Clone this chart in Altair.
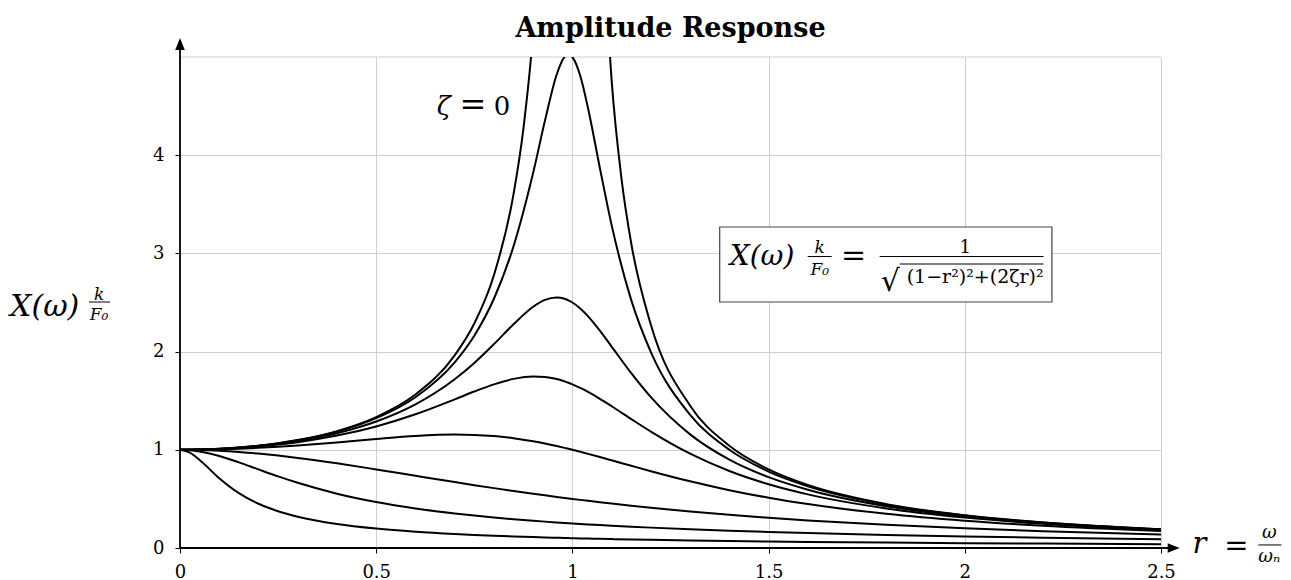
import altair as alt
import pandas as pd

FONT = "DejaVu Serif"

# frequency ratio grid r = omega / omega_n
R = [0, 0.025, 0.05, 0.1, 0.15, 0.2, 0.25, 0.3, 0.4, 0.5, 0.6, 0.7, 0.75, 0.8, 0.85,
     0.9, 0.93, 0.96, 0.98, 0.99, 1.0, 1.02, 1.04, 1.07, 1.1, 1.15, 1.2, 1.3, 1.4,
     1.5, 1.6, 1.8, 2.0, 2.2, 2.5]

# amplitude read for each damping ratio
ZETA_01 = [1.0, 1.0006, 1.0025, 1.0099, 1.0225, 1.0408, 1.0652, 1.0965, 1.1851, 1.3217,
           1.5357, 1.8908, 2.1622, 2.5384, 3.0728, 3.8207, 4.3500, 4.8218, 5.0010, 5.0252,
           5.0, 4.8086, 4.4755, 3.8693, 3.2880, 2.5245, 1.9952, 1.3562, 1.0, 0.7779,
           0.6280, 0.4408, 0.3304, 0.2587, 0.1896]
ZETA_02 = [1.0, 1.0006, 1.0023, 1.0093, 1.0211, 1.0381, 1.0607, 1.0895, 1.1695, 1.2883,
           1.4630, 1.7188, 1.8851, 2.0761, 2.2786, 2.4566, 2.5267, 2.5515, 2.5381, 2.5221,
           2.5, 2.4391, 2.3589, 2.2131, 2.0511, 1.7800, 1.5357, 1.1574, 0.8998, 0.7212,
           0.5931, 0.4250, 0.3221, 0.2538, 0.1871]
ZETA_03 = [1.0, 1.0005, 1.0021, 1.0083, 1.0187, 1.0336, 1.0533, 1.0780, 1.1447, 1.2380,
           1.3618, 1.5136, 1.5933, 1.6667, 1.7221, 1.7469, 1.7418, 1.7202, 1.6968, 1.6826,
           1.6667, 1.6304, 1.5890, 1.5194, 1.4438, 1.3129, 1.1851, 0.9603, 0.7839, 0.6492,
           0.5459, 0.4021, 0.3095, 0.2463, 0.1831]
ZETA_05 = [1.0, 1.0003, 1.0012, 1.0050, 1.0112, 1.0198, 1.0307, 1.0437, 1.0748, 1.1094,
           1.1399, 1.1546, 1.1517, 1.1399, 1.1184, 1.0871, 1.0641, 1.0382, 1.0196, 1.0099,
           1.0, 0.9796, 0.9586, 0.9261, 0.8930, 0.8373, 0.7824, 0.6795, 0.5891, 0.5121,
           0.4475, 0.3480, 0.2774, 0.2260, 0.1720]
ZETA_1 = [1.0, 0.9994, 0.9975, 0.9901, 0.9780, 0.9615, 0.9412, 0.9174, 0.8621, 0.8,
          0.7353, 0.6711, 0.64, 0.6098, 0.5806, 0.5525, 0.5362, 0.5204, 0.5101, 0.5050,
          0.5, 0.4901, 0.4804, 0.4662, 0.4525, 0.4306, 0.4098, 0.3717, 0.3378, 0.3077,
          0.2809, 0.2358, 0.2, 0.1712, 0.1379]
ZETA_2 = [1.0, 0.9957, 0.9829, 0.9365, 0.8719, 0.8002, 0.7295, 0.6640, 0.5534, 0.4682,
          0.4026, 0.3514, 0.3298, 0.3105, 0.2931, 0.2774, 0.2686, 0.2604, 0.2551, 0.2525,
          0.25, 0.2451, 0.2403, 0.2335, 0.2270, 0.2169, 0.2075, 0.1906, 0.1760, 0.1632,
          0.1518, 0.1326, 0.1170, 0.1042, 0.0885]
ZETA_5 = [1.0, 0.9707, 0.8962, 0.7107, 0.5585, 0.4508, 0.3745, 0.3190, 0.2447, 0.1978,
          0.1657, 0.1425, 0.1331, 0.1249, 0.1176, 0.1111, 0.1075, 0.1042, 0.1020, 0.1010,
          0.1, 0.0980, 0.0962, 0.0934, 0.0909, 0.0869, 0.0833, 0.0768, 0.0713, 0.0664,
          0.0622, 0.0551, 0.0494, 0.0448, 0.0391]

# undamped curve, two branches either side of resonance
R0_LEFT = [0, 0.025, 0.05, 0.1, 0.15, 0.2, 0.25, 0.3, 0.4, 0.5, 0.6, 0.7, 0.75, 0.8,
           0.85, 0.875, 0.9, 0.93]
X0_LEFT = [1.0, 1.0006, 1.0025, 1.0101, 1.0230, 1.0417, 1.0667, 1.0989, 1.1905, 1.3333,
           1.5625, 1.9608, 2.2857, 2.7778, 3.6036, 4.2667, 5.2632, 7.4019]
R0_RIGHT = [1.07, 1.1, 1.125, 1.15, 1.2, 1.3, 1.4, 1.5, 1.6, 1.8, 2.0, 2.2, 2.5]
X0_RIGHT = [6.9013, 4.7619, 3.7647, 3.1008, 2.2727, 1.4493, 1.0417, 0.8, 0.6410, 0.4464,
            0.3333, 0.2604, 0.1905]

X_TICKS = [0, 0.5, 1, 1.5, 2, 2.5]
Y_TICKS = [0, 1, 2, 3, 4]

rows = []
for name, vals in [("0.1", ZETA_01), ("0.2", ZETA_02), ("0.3", ZETA_03), ("0.5", ZETA_05),
                   ("1", ZETA_1), ("2", ZETA_2), ("5", ZETA_5)]:
    for r, v in zip(R, vals):
        rows.append({"curve": name, "r": r, "amp": v})
for r, v in zip(R0_LEFT, X0_LEFT):
    rows.append({"curve": "0 left", "r": r, "amp": v})
for r, v in zip(R0_RIGHT, X0_RIGHT):
    rows.append({"curve": "0 right", "r": r, "amp": v})
df = pd.DataFrame(rows)

ONE = pd.DataFrame({"k": [0]})
xs = alt.Scale(domain=[0, 2.5], nice=False, zero=False)
ys = alt.Scale(domain=[0, 5], nice=False, zero=False)

GRID = "#cfcfcf"

curves = alt.Chart(df).mark_line(
    color="black", strokeWidth=2.0, interpolate="monotone", clip=True
).encode(
    x=alt.X("r:Q", scale=xs, title="",
            axis=alt.Axis(values=X_TICKS, format="~g", grid=True, gridColor=GRID,
                          gridWidth=1, domain=False, tickColor="black", tickSize=5,
                          tickWidth=1, labelPadding=10, labelFont=FONT, labelFontSize=18,
                          labelColor="black", labelFlush=False, labelOverlap=False)),
    y=alt.Y("amp:Q", scale=ys, title="",
            axis=alt.Axis(values=Y_TICKS, format="~g", grid=True, gridColor=GRID,
                          gridWidth=1, domain=False, tickColor="black", tickSize=5,
                          tickWidth=1, labelPadding=11, labelFont=FONT, labelFontSize=18,
                          labelColor="black", labelFlush=False, labelOverlap=False)),
    detail="curve:N",
)


def hrule(r1, r2, v, color="black", width=1.0):
    return alt.Chart(ONE).mark_rule(color=color, strokeWidth=width).encode(
        x=alt.datum(r1), x2=alt.datum(r2), y=alt.datum(v))


def vrule(r, v1, v2, color="black", width=1.0):
    return alt.Chart(ONE).mark_rule(color=color, strokeWidth=width).encode(
        x=alt.datum(r), y=alt.datum(v1), y2=alt.datum(v2))


def txt(s, r, v, size, style="normal", weight="normal", align="left"):
    return alt.Chart(ONE).mark_text(
        text=s, font=FONT, fontSize=size, fontStyle=style, fontWeight=weight,
        align=align, baseline="alphabetic", color="black"
    ).encode(x=alt.datum(r), y=alt.datum(v))


grid_top = hrule(0, 2.5, 5, color=GRID, width=1)
x_axis_line = hrule(0, 2.52, 0, width=1.8)
y_axis_line = vrule(0, 0, 5.08, width=1.8)

arrow_right = alt.Chart(ONE).mark_point(
    shape="M -1 -0.8 L 1 0 L -1 0.8 Z", filled=True, size=144, color="black", opacity=1
).encode(x=alt.datum(2.5323), y=alt.datum(0))
arrow_up = alt.Chart(ONE).mark_point(
    shape="M -0.8 1 L 0 -1 L 0.8 1 Z", filled=True, size=144, color="black", opacity=1
).encode(x=alt.datum(0), y=alt.datum(5.132))

box = alt.Chart(ONE).mark_rect(fill="white", stroke="#444444", strokeWidth=1.2).encode(
    x=alt.datum(1.3754), x2=alt.datum(2.222), y=alt.datum(2.505), y2=alt.datum(3.269))

annotations = [
    # title
    txt("Amplitude Response", 1.25, 5.204, 27, weight="bold", align="center"),
    # zeta = 0 label
    txt("ζ", 0.6546, 4.409, 26, style="italic"),
    txt("=", 0.7465, 4.409, 32, align="center"),
    txt("0", 0.842, 4.409, 26, align="right"),
    # formula in the box
    txt("X(ω)", 1.4009, 2.882, 28, style="italic"),
    txt("k", 1.6302, 3.004, 17, style="italic", align="center"),
    hrule(1.5996, 1.6607, 2.968, width=1),
    txt("F₀", 1.6302, 2.780, 17, style="italic", align="center"),
    txt("=", 1.7168, 2.882, 30, align="center"),
    txt("1", 2.0009, 3.004, 18, align="center"),
    hrule(1.783, 2.2007, 2.968, width=1),
    txt("√", 1.7855, 2.617, 30),
    hrule(1.834, 2.2007, 2.892, width=1),
    txt("(1−r²)²+(2ζr)²", 1.8518, 2.699, 19),
    # y-axis label
    txt("X(ω)", -0.433, 2.362, 30, style="italic"),
    txt("k", -0.2063, 2.525, 17, style="italic", align="center"),
    hrule(-0.2318, -0.1783, 2.505, width=1),
    txt("F₀", -0.2063, 2.322, 17, style="italic", align="center"),
    # x-axis label
    txt("r", 2.580, -0.051, 29, style="italic"),
    txt("=", 2.692, -0.071, 29, align="center"),
    txt("ω", 2.776, 0.102, 18, style="italic", align="center"),
    hrule(2.748, 2.807, 0.031, width=1),
    txt("ωₙ", 2.776, -0.143, 18, style="italic", align="center"),
]

chart = alt.layer(
    grid_top, curves, x_axis_line, y_axis_line, arrow_right, arrow_up, box, *annotations
).properties(
    width=981,
    height=491,
    padding={"left": 172, "top": 49, "right": 122, "bottom": 32},
    autosize=alt.AutoSizeParams(type="none"),
).configure_view(strokeWidth=0)

chart.save("out.html", embed_options={"renderer": "svg", "actions": False})
